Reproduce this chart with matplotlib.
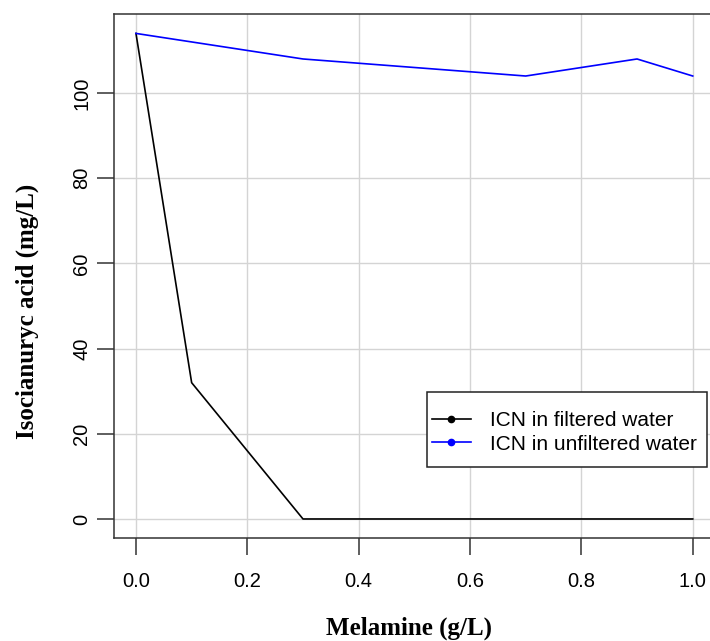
import matplotlib
matplotlib.use('Agg')
import matplotlib.pyplot as plt
from matplotlib.lines import Line2D
from matplotlib.patches import Rectangle

# melamine dose (g/L) vs isocyanuric acid (mg/L)
x_filt = [0.0, 0.1, 0.3, 1.0]
y_filt = [114, 32, 0, 0]
x_unfilt = [0.0, 0.3, 0.7, 0.9, 1.0]
y_unfilt = [114, 108, 104, 108, 104]
xticks = [0.0, 0.2, 0.4, 0.6, 0.8, 1.0]
yticks = [0, 20, 40, 60, 80, 100]
labels = ['ICN in filtered water', 'ICN in unfiltered water']

W, H = 710, 641
fig = plt.figure(figsize=(W/100, H/100), dpi=100)
# axes box reaches a bit past the right edge, as in the cropped original
ax = fig.add_axes([113.7/W, 1-538.4/H, (715-113.7)/W, (538.4-14)/H])

ax.set_xlim(-0.04, 1.04)
ax.set_ylim(-4.56, 118.56)
ax.set_xticks(xticks)
ax.set_yticks(yticks)
ax.set_xticklabels(['%.1f' % t for t in xticks])
ax.set_yticklabels([str(t) for t in yticks], rotation=90, va='center')
ax.grid(True, color='#d4d4d4', lw=1)
ax.set_axisbelow(True)

ax.plot(x_filt, y_filt, color='black', lw=1.2)
ax.plot(x_unfilt, y_unfilt, color='blue', lw=1.2)

for s in ax.spines.values():
    s.set_color('#333333')
    s.set_linewidth(1.1)
ax.tick_params(direction='out', length=12, width=1.1, color='#333333',
               labelsize=14.5)
for t in ax.get_xticklabels() + ax.get_yticklabels():
    t.set_family('Liberation Sans')
ax.tick_params(axis='x', pad=12)
ax.tick_params(axis='y', pad=4)

fig.text(409/W, 1-628/H, 'Melamine (g/L)', ha='center', va='center',
         family='Liberation Serif', fontweight='bold', fontsize=18)
fig.text(27/W, 1-311/H, 'Isocianuryc acid (mg/L)', ha='center', va='center',
         rotation=90, family='Liberation Serif', fontweight='bold', fontsize=18)

# legend: box drawn by hand, entries without frame
box = Rectangle((427/W, 1-467/H), (707-427)/W, (467-392)/H,
                transform=fig.transFigure, facecolor='white',
                edgecolor='#222222', lw=1.1, zorder=5, clip_on=False)
ax.add_patch(box)
handles = [Line2D([], [], color='black', marker='o', markersize=4.5, lw=1.2),
           Line2D([], [], color='blue', marker='o', markersize=4.5, lw=1.2)]
leg = ax.legend(handles, labels, loc='upper left',
                bbox_to_anchor=(432/W, 1-411/H), bbox_transform=fig.transFigure,
                prop={'family': 'Liberation Sans', 'size': 15},
                frameon=False, handlelength=1.85, handletextpad=0.95,
                labelspacing=0.22, borderpad=0, borderaxespad=0)
leg.set_zorder(6)

fig.savefig('out.png', dpi=100)
